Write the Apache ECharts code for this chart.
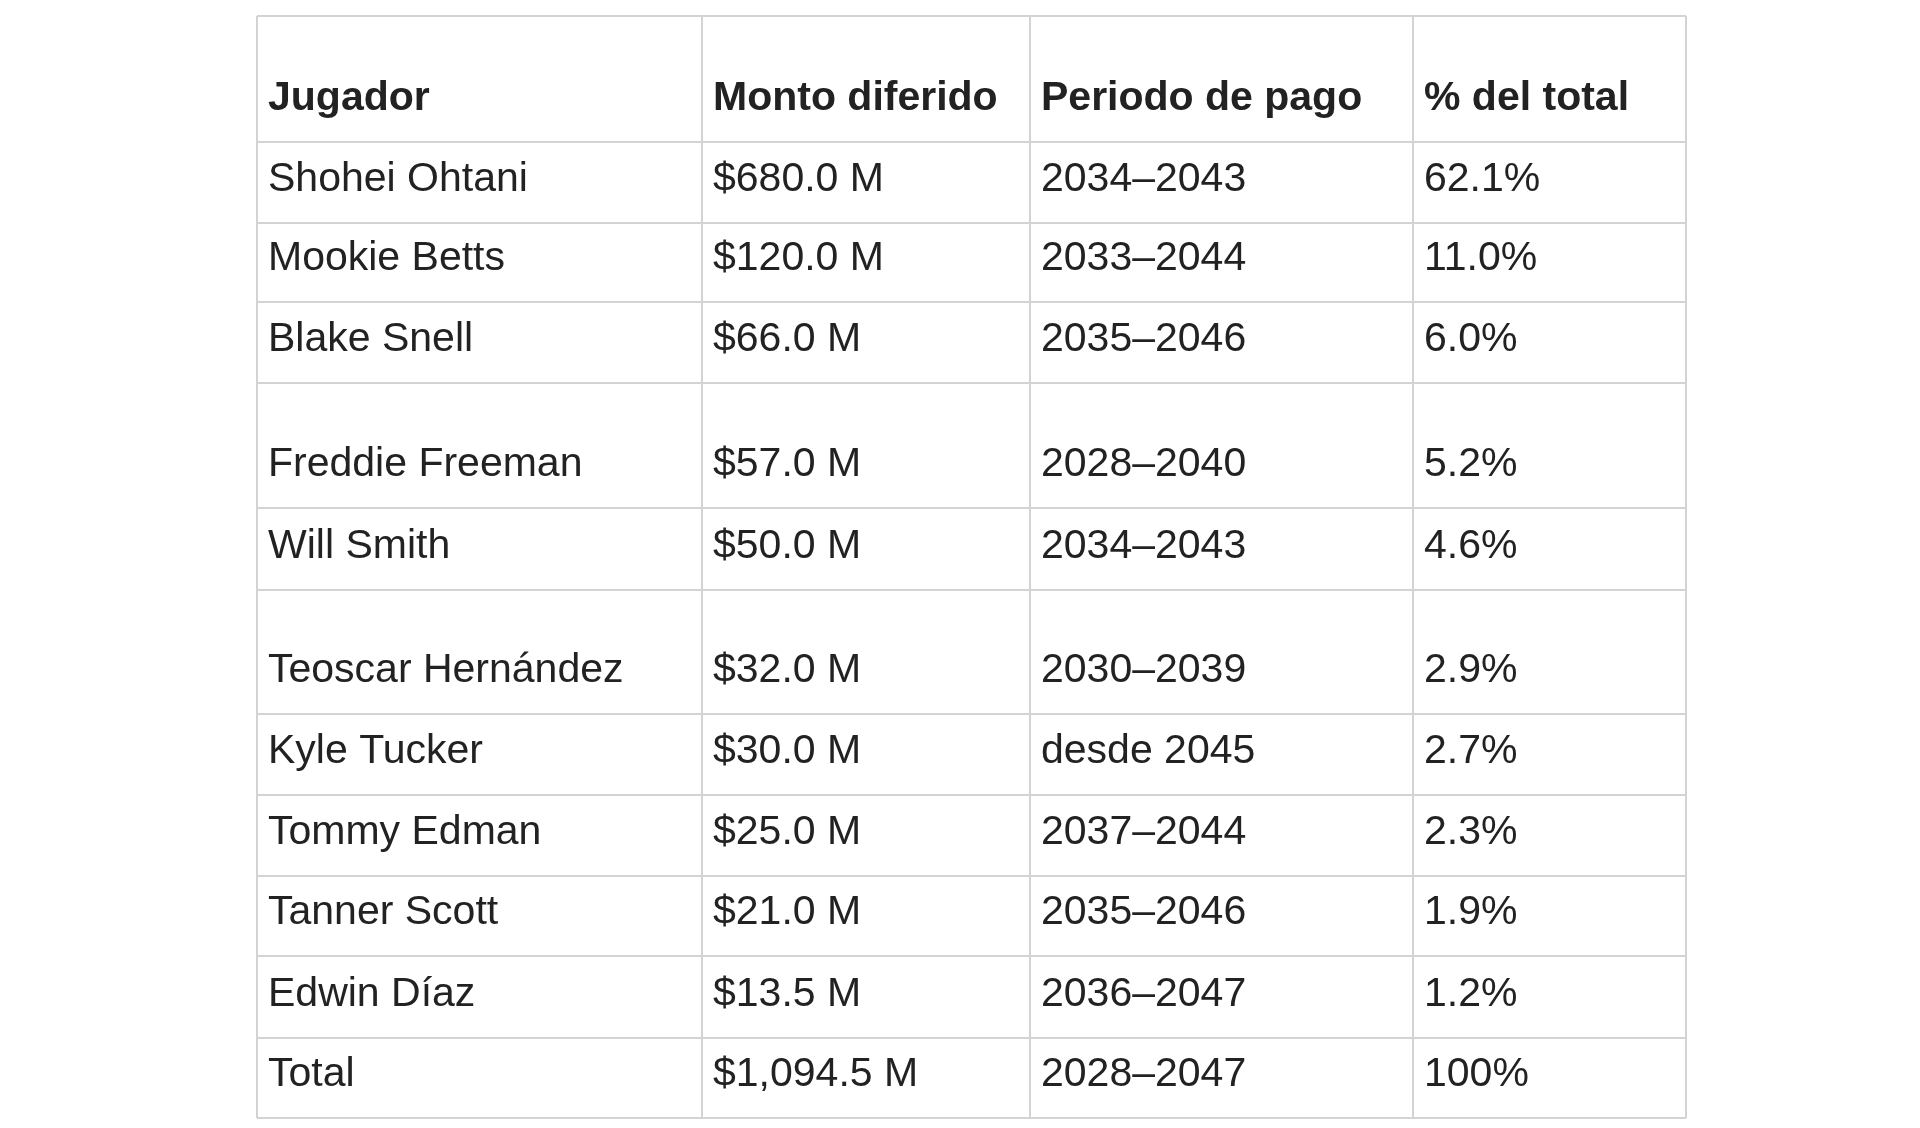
<!DOCTYPE html>
<html><head><meta charset="utf-8">
<script src="https://cdn.jsdelivr.net/npm/echarts@6/dist/echarts.min.js"></script>
<style>html,body{margin:0;padding:0;background:#fff}#c{width:1920px;height:1128px}</style>
</head><body><div id="c"></div>
<script>
const headers = ["Jugador", "Monto diferido", "Periodo de pago", "% del total"];
const players = ["Shohei Ohtani","Mookie Betts","Blake Snell","Freddie Freeman","Will Smith","Teoscar Hernández","Kyle Tucker","Tommy Edman","Tanner Scott","Edwin Díaz","Total"];
const amounts = ["$680.0 M","$120.0 M","$66.0 M","$57.0 M","$50.0 M","$32.0 M","$30.0 M","$25.0 M","$21.0 M","$13.5 M","$1,094.5 M"];
const periods = ["2034–2043","2033–2044","2035–2046","2028–2040","2034–2043","2030–2039","desde 2045","2037–2044","2035–2046","2036–2047","2028–2047"];
const shares = ["62.1%","11.0%","6.0%","5.2%","4.6%","2.9%","2.7%","2.3%","1.9%","1.2%","100%"];

const colX = [257, 702, 1030, 1413, 1686];
const rowY = [16, 142, 223, 302, 383, 508, 590, 714, 795, 876, 956, 1038, 1118];
const els = [];
const line = '#d3d3d3';
colX.forEach(x => els.push({type:'line', shape:{x1:x,y1:rowY[0],x2:x,y2:rowY[rowY.length-1]}, style:{stroke:line,lineWidth:2}}));
rowY.forEach(y => els.push({type:'line', shape:{x1:colX[0],y1:y,x2:colX[4],y2:y}, style:{stroke:line,lineWidth:2}}));
function cell(text, c, r, bold){
  els.push({type:'text', x:colX[c]+11, y:rowY[r+1]-43,
    style:{text:text, fill:'#222', font:(bold?'bold ':'')+'41px "Liberation Sans", Arial, sans-serif', textVerticalAlign:'middle', verticalAlign:'middle'}});
}
headers.forEach((h,c)=>cell(h,c,0,true));
const cols=[players,amounts,periods,shares];
cols.forEach((arr,c)=>arr.forEach((t,r)=>cell(t,c,r+1,false)));
const chart = echarts.init(document.getElementById('c'));
chart.setOption({backgroundColor:'#fff', graphic:{elements:els}});
</script></body></html>
